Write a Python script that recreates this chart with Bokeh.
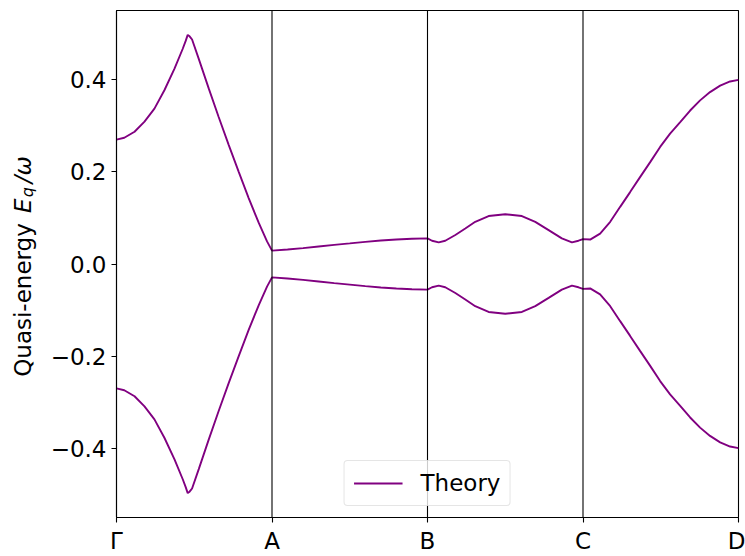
import math
from bokeh.plotting import figure
from bokeh.layouts import row
from bokeh.models import FixedTicker, Span, Legend, LegendItem, Range1d
from bokeh.core.properties import value
from bokeh.embed import file_html
from bokeh.resources import INLINE

# ---- data ----
k_ticks = [0, 1, 2, 3, 4]
k_labels = ["Γ", "A", "B", "C", "D"]
y_ticks = [-0.4, -0.2, 0.0, 0.2, 0.4]
y_labels = ["−0.4", "−0.2", "0.0", "0.2", "0.4"]
boundaries = [1, 2, 3]

k_upper = [0.0, 0.05, 0.116, 0.18, 0.244, 0.308, 0.373, 0.426, 0.445, 0.458, 0.47, 0.486,
           0.529, 0.593, 0.657, 0.722, 0.786, 0.850, 0.915, 0.968, 1.0,
           1.1, 1.2, 1.3, 1.4, 1.5, 1.6, 1.7, 1.8, 1.9, 2.0,
           2.029, 2.072, 2.114, 2.179, 2.243, 2.307, 2.393, 2.5, 2.607, 2.693, 2.779, 2.864,
           2.929, 2.971, 3.0,
           3.046, 3.11, 3.175, 3.239, 3.303, 3.368, 3.432, 3.496, 3.560, 3.625, 3.689, 3.753,
           3.817, 3.882, 3.946, 4.0]
e_upper = [0.270, 0.274, 0.287, 0.309, 0.337, 0.377, 0.424, 0.467, 0.484, 0.497, 0.494, 0.487,
           0.445, 0.381, 0.319, 0.258, 0.200, 0.143, 0.089, 0.049, 0.029,
           0.0315, 0.0345, 0.038, 0.0415, 0.0447, 0.048, 0.051, 0.053, 0.0548, 0.0555,
           0.0505, 0.047, 0.0505, 0.063, 0.077, 0.0915, 0.104, 0.108, 0.104, 0.0915, 0.0735, 0.0555,
           0.047, 0.0505, 0.054,
           0.053, 0.066, 0.0915, 0.124, 0.156, 0.189, 0.221, 0.254, 0.283, 0.308, 0.333, 0.355,
           0.373, 0.387, 0.396, 0.3995]
k_lower = [0.0, 0.05, 0.116, 0.18, 0.244, 0.308, 0.373, 0.426, 0.445, 0.458, 0.47, 0.486,
           0.529, 0.593, 0.657, 0.722, 0.786, 0.850, 0.915, 0.968, 1.0,
           1.1, 1.2, 1.3, 1.4, 1.5, 1.6, 1.7, 1.8, 1.9, 2.0,
           2.029, 2.072, 2.114, 2.179, 2.243, 2.307, 2.393, 2.5, 2.607, 2.693, 2.779, 2.864,
           2.929, 2.971, 3.0,
           3.046, 3.11, 3.175, 3.239, 3.303, 3.368, 3.432, 3.496, 3.560, 3.625, 3.689, 3.753,
           3.817, 3.882, 3.946, 4.0]
e_lower = [-0.270, -0.274, -0.287, -0.309, -0.337, -0.377, -0.424, -0.467, -0.484, -0.497, -0.494, -0.487,
           -0.445, -0.381, -0.319, -0.258, -0.200, -0.143, -0.089, -0.049, -0.029,
           -0.0315, -0.0345, -0.038, -0.0415, -0.0447, -0.048, -0.051, -0.053, -0.0548, -0.0555,
           -0.0505, -0.047, -0.0505, -0.063, -0.077, -0.0915, -0.104, -0.108, -0.104, -0.0915, -0.0735, -0.0555,
           -0.047, -0.0505, -0.054,
           -0.053, -0.066, -0.0915, -0.124, -0.156, -0.189, -0.221, -0.254, -0.283, -0.308, -0.333, -0.355,
           -0.373, -0.387, -0.396, -0.3995]

FONT = "DejaVu Sans"
FS = "23px"
PURPLE = "#800080"
Y0, Y1 = -0.55, 0.55
LAB_W = 47

# ---- main plot ----
p = figure(width=745 - LAB_W, height=556, output_backend="svg", toolbar_location=None,
           x_range=Range1d(0, 4), y_range=Range1d(Y0, Y1),
           min_border_left=69, min_border_right=7, min_border_top=10, min_border_bottom=38)
p.background_fill_color = "white"
p.border_fill_color = "white"
p.outline_line_color = "black"
p.outline_line_width = 1.1
p.grid.visible = False

for ax in (p.xaxis[0], p.yaxis[0]):
    ax.axis_line_color = "black"
    ax.axis_line_width = 1.1
    ax.major_tick_line_color = "black"
    ax.major_tick_line_width = 1.1
    ax.major_tick_out = 5
    ax.major_tick_in = 0
    ax.minor_tick_line_color = None
    ax.major_label_text_font = FONT
    ax.major_label_text_font_size = FS
    ax.major_label_text_color = "black"
    ax.major_label_standoff = 5

p.xaxis.ticker = FixedTicker(ticks=k_ticks)
p.xaxis.major_label_overrides = {t: l for t, l in zip(k_ticks, k_labels)}
p.yaxis.ticker = FixedTicker(ticks=y_ticks)
p.yaxis.major_label_overrides = {t: l for t, l in zip(y_ticks, y_labels)}

for b in boundaries:
    p.add_layout(Span(location=b, dimension="height", line_color="black", line_width=1.1))

r1 = p.line(k_upper, e_upper, line_color=PURPLE, line_width=1.9)
r2 = p.line(k_lower, e_lower, line_color=PURPLE, line_width=1.9)

legend = Legend(items=[LegendItem(label="Theory", renderers=[r1])],
                location="bottom_center", margin=11, padding=9, spacing=0,
                glyph_width=49, glyph_height=24, label_height=24, label_standoff=18,
                label_text_font=FONT, label_text_font_size=FS, label_text_color="black",
                border_line_color="#cccccc", border_line_width=1, background_fill_alpha=0.8)
if "border_radius" in Legend.properties():
    legend.border_radius = 4
p.add_layout(legend)

# ---- y-axis label panel: "Quasi-energy  E_q/ω" ----
lab = figure(width=LAB_W, height=556, output_backend="svg", toolbar_location=None,
             x_range=Range1d(0, LAB_W), y_range=Range1d(Y0, Y1),
             x_axis_location=None, y_axis_location=None,
             min_border_left=0, min_border_right=0, min_border_top=10, min_border_bottom=38)
lab.outline_line_color = None
lab.grid.visible = False
lab.background_fill_color = "white"
lab.border_fill_color = "white"

def ydat(px):
    return Y1 - (px - 10) / 508.0 * (Y1 - Y0)

half = math.pi / 2
BASE = 22
lab.text(x=[BASE], y=[ydat(377)], text=["Quasi-energy"], angle=half,
         text_font=value(FONT), text_font_size=FS, text_align="left",
         text_baseline="alphabetic", text_color="black")
lab.text(x=[BASE], y=[ydat(213)], text=["E"], angle=half,
         text_font=value(FONT), text_font_size=FS, text_font_style="italic",
         text_align="left", text_baseline="alphabetic", text_color="black")
lab.text(x=[BASE + 5], y=[ydat(197)], text=["q"], angle=half,
         text_font=value(FONT), text_font_size="16px", text_font_style="italic",
         text_align="left", text_baseline="alphabetic", text_color="black")
lab.text(x=[BASE], y=[ydat(183)], text=["/ω"], angle=half,
         text_font=value(FONT), text_font_size=FS, text_font_style="italic",
         text_align="left", text_baseline="alphabetic", text_color="black")

layout = row(lab, p, spacing=0)
open("out.html", "w").write(file_html(layout, INLINE))
